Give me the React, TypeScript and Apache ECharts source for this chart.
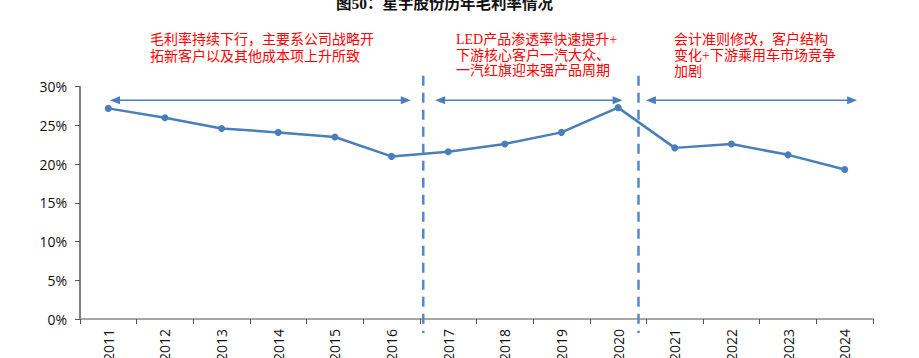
import React, { useEffect, useRef } from "react";
import * as echarts from "echarts";

const years = ["2011", "2012", "2013", "2014", "2015", "2016", "2017", "2018", "2019", "2020", "2021", "2022", "2023", "2024"];
const grossMargin = [27.2, 26.0, 24.6, 24.1, 23.5, 21.0, 21.6, 22.6, 24.1, 27.3, 22.1, 22.6, 21.2, 19.3];

const yMin = 0;
const yMax = 30;
const yInterval = 5;

// annotation positions in category units (0..14) and value units (%)
const arrowStart = [0.53, 6.27, 9.99];
const arrowEnd = [5.84, 9.58, 13.72];
const arrowLevel = 28.25;
const dividerPos = [6.06, 9.86];
const dividerTop = 31.4;
const dividerBottom = -1.8;

const titleText = "图50：星宇股份历年毛利率情况";
const noteTexts = [
  "毛利率持续下行，主要系公司战略开\n拓新客户以及其他成本项上升所致",
  "LED产品渗透率快速提升+\n下游核心客户一汽大众、\n一汽红旗迎来强产品周期",
  "会计准则修改，客户结构\n变化+下游乘用车市场竞争\n加剧",
];

const BLUE = "#4A7EBB";
const FONT_CN = "'Liberation Serif', 'Noto Sans CJK SC', serif";
const FONT_AX = "'Open Sans', 'Noto Sans', sans-serif";

export default function App() {
  const ref = useRef<HTMLDivElement>(null);

  useEffect(() => {
    if (!ref.current) return;
    const chart = echarts.init(ref.current, undefined, { renderer: "svg" });

    const arrowData = arrowStart.map((s, i) => [s, arrowEnd[i], arrowLevel]);
    const dividerData = dividerPos.map((x) => [x, dividerBottom, dividerTop]);

    chart.setOption({
      animation: false,
      backgroundColor: "#ffffff",
      grid: { left: 80, right: 46, top: 86.7, bottom: 39, containLabel: false, outerBoundsMode: "none" },
      xAxis: [
        {
          type: "category",
          data: years,
          boundaryGap: true,
          axisLine: { lineStyle: { color: "#8a8a8a", width: 1.5 } },
          axisTick: { show: true, inside: false, length: 5, interval: 0, lineStyle: { color: "#555" } },
          axisLabel: {
            rotate: 90,
            interval: 0,
            margin: 10,
            color: "#111",
            fontSize: 14,
            fontFamily: FONT_AX,
          },
          splitLine: { show: false },
        },
        {
          type: "value",
          min: 0,
          max: years.length,
          show: false,
        },
      ],
      yAxis: {
        type: "value",
        min: yMin,
        max: yMax,
        interval: yInterval,
        axisLine: { show: true, lineStyle: { color: "#555", width: 1.5 } },
        axisTick: { show: true, inside: false, length: 5, lineStyle: { color: "#555" } },
        axisLabel: {
          formatter: "{value}%",
          margin: 13,
          color: "#111",
          fontSize: 14,
          fontFamily: FONT_AX,
        },
        splitLine: { show: false },
      },
      series: [
        {
          type: "line",
          data: grossMargin,
          xAxisIndex: 0,
          yAxisIndex: 0,
          symbol: "circle",
          symbolSize: 7,
          lineStyle: { color: BLUE, width: 2.5 },
          itemStyle: { color: BLUE },
          z: 5,
        },
        {
          type: "custom",
          xAxisIndex: 1,
          yAxisIndex: 0,
          clip: false,
          data: arrowData,
          renderItem: (params: any, api: any) => {
            const p1 = api.coord([api.value(0), api.value(2)]);
            const p2 = api.coord([api.value(1), api.value(2)]);
            const y = p1[1];
            const hl = 10;
            const hw = 4;
            return {
              type: "group",
              children: [
                {
                  type: "line",
                  shape: { x1: p1[0] + hl - 1, y1: y, x2: p2[0] - hl + 1, y2: y },
                  style: { stroke: BLUE, lineWidth: 1.5 },
                },
                {
                  type: "polygon",
                  shape: { points: [[p1[0], y], [p1[0] + hl, y - hw], [p1[0] + hl, y + hw]] },
                  style: { fill: BLUE },
                },
                {
                  type: "polygon",
                  shape: { points: [[p2[0], y], [p2[0] - hl, y - hw], [p2[0] - hl, y + hw]] },
                  style: { fill: BLUE },
                },
              ],
            };
          },
          z: 4,
        },
        {
          type: "custom",
          xAxisIndex: 1,
          yAxisIndex: 0,
          clip: false,
          data: dividerData,
          renderItem: (params: any, api: any) => {
            const a = api.coord([api.value(0), api.value(2)]);
            const b = api.coord([api.value(0), api.value(1)]);
            return {
              type: "line",
              shape: { x1: a[0], y1: a[1], x2: b[0], y2: b[1] },
              style: { stroke: "#5588C6", lineWidth: 2.5, lineDash: [10, 7] },
            };
          },
          z: 6,
        },
      ],
      graphic: [
        {
          type: "text",
          x: 336,
          y: -4,
          style: {
            text: titleText,
            fill: "#111",
            font: `bold 15.5px ${FONT_CN}`,
          },
        },
        {
          type: "text",
          x: 150,
          y: 31,
          style: {
            text: noteTexts[0],
            fill: "#FF0000",
            font: `14px ${FONT_CN}`,
            lineHeight: 17,
          },
        },
        {
          type: "text",
          x: 456,
          y: 32,
          style: {
            text: noteTexts[1],
            fill: "#FF0000",
            font: `14px ${FONT_CN}`,
            lineHeight: 15.5,
          },
        },
        {
          type: "text",
          x: 674,
          y: 32,
          style: {
            text: noteTexts[2],
            fill: "#FF0000",
            font: `14px ${FONT_CN}`,
            lineHeight: 15.8,
          },
        },
      ],
    });

    return () => chart.dispose();
  }, []);

  return (
    <div
      ref={ref}
      style={{ position: "fixed", left: 0, top: 0, width: 919, height: 358, background: "#fff" }}
    />
  );
}
